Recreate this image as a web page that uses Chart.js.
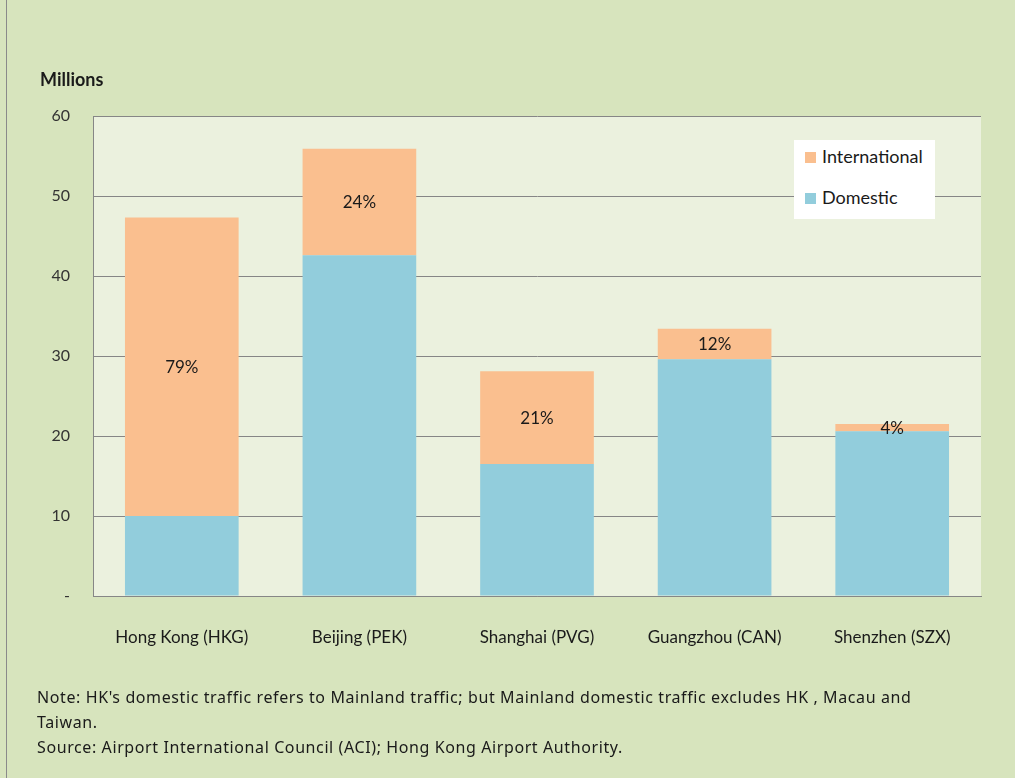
<!DOCTYPE html>
<html>
<head>
<meta charset="utf-8">
<script src="https://cdn.jsdelivr.net/npm/chart.js@4.4.1/dist/chart.umd.min.js"></script>
<style>
    html, body { margin: 0; padding: 0; background: #d7e4bd; }
    #wrap { position: relative; width: 1015px; height: 778px; background: #d7e4bd; overflow: hidden; }
    #wrap:before { content: ''; position: absolute; left: 6px; top: 0; bottom: 0; width: 1px; background: #8a8a8a; }
    canvas { position: absolute; left: 0; top: 0; }
    .txt { position: absolute; font-family: Lato, 'Open Sans', sans-serif; color: #1a1a1a; }
    #units { left: 40px; top: 68px; font-size: 18px; font-weight: bold; }
    #legend { left: 794px; top: 140px; width: 141px; height: 79px; background: #ffffff; }
    .item { position: absolute; left: 11px; font-size: 18px; }
    .item span { display: inline-block; width: 11px; height: 11px; margin-right: 6px; vertical-align: 0px; }
    #notes { left: 37px; top: 685px; font-size: 16px; line-height: 25px; letter-spacing: 0.6px; font-family: 'Noto Sans', sans-serif; }
</style>
</head>
<body>
<div id="wrap">
    <canvas id="chart" width="1015" height="778"></canvas>
    <div class="txt" id="units">Millions</div>
    <div class="txt" id="legend">
        <div class="item" style="top:5px"><span style="background:#fabf8f"></span>International</div>
        <div class="item" style="top:46px"><span style="background:#92cddc"></span>Domestic</div>
    </div>
    <div class="txt" id="notes">
        Note: HK's domestic traffic refers to Mainland traffic; but Mainland domestic traffic excludes HK , Macau and<br>
        Taiwan.<br>
        Source: Airport International Council (ACI); Hong Kong Airport Authority.
    </div>
</div>
<script>
// Chart data
const airports = ['Hong Kong (HKG)', 'Beijing (PEK)', 'Shanghai (PVG)', 'Guangzhou (CAN)', 'Shenzhen (SZX)'];
const domestic = [10.0, 42.6, 16.5, 29.6, 20.6];
const international = [37.3, 13.3, 11.6, 3.8, 0.9];
const intlShare = ['79%', '24%', '21%', '12%', '4%'];
const yTicks = [0, 10, 20, 30, 40, 50, 60];

// Fill plot area background
const plotBackground = {
    id: 'plotBackground',
    beforeDraw(chart) {
        const { ctx, chartArea } = chart;
        ctx.save();
        ctx.fillStyle = '#ebf1de';
        ctx.fillRect(chartArea.left, chartArea.top, chartArea.right - chartArea.left, chartArea.bottom - chartArea.top);
        ctx.restore();
    }
};

// Share labels in the middle of the international segment
const shareLabels = {
    id: 'shareLabels',
    afterDatasetsDraw(chart) {
        const { ctx } = chart;
        const meta = chart.getDatasetMeta(1);
        ctx.save();
        ctx.font = '17px Lato, "Open Sans", sans-serif';
        ctx.fillStyle = '#1a1a1a';
        ctx.textAlign = 'center';
        ctx.textBaseline = 'middle';
        meta.data.forEach((bar, i) => {
            ctx.fillText(intlShare[i], bar.x, (bar.y + bar.base) / 2 + 1);
        });
        ctx.restore();
    }
};

new Chart(document.getElementById('chart'), {
    type: 'bar',
    data: {
        labels: airports,
        datasets: [
            { label: 'Domestic', data: domestic, backgroundColor: '#92cddc' },
            { label: 'International', data: international, backgroundColor: '#fabf8f' }
        ]
    },
    options: {
        responsive: false,
        animation: false,
        layout: { padding: { left: 0, top: 116, right: 34, bottom: 0 } },
        plugins: {
            legend: { display: false },
            tooltip: { enabled: false }
        },
        datasets: {
            bar: { barPercentage: 0.64, categoryPercentage: 1 }
        },
        scales: {
            x: {
                stacked: true,
                grid: { display: false },
                border: { color: '#868686' },
                ticks: {
                    color: '#1a1a1a',
                    font: { family: 'Lato, "Open Sans", sans-serif', size: 17 },
                    padding: 23
                },
                afterFit(scale) { scale.height = 182; }
            },
            y: {
                stacked: true,
                min: 0,
                max: 60,
                afterBuildTicks(scale) { scale.ticks = yTicks.map(v => ({ value: v })); },
                grid: { color: '#868686', drawTicks: false },
                border: { color: '#868686' },
                ticks: {
                    color: '#333333',
                    font: { family: 'Lato, "Open Sans", sans-serif', size: 16 },
                    padding: 23,
                    callback: v => v === 0 ? '-' : v
                },
                afterFit(scale) { scale.width = 93; }
            }
        }
    },
    plugins: [plotBackground, shareLabels]
});
</script>
</body>
</html>
